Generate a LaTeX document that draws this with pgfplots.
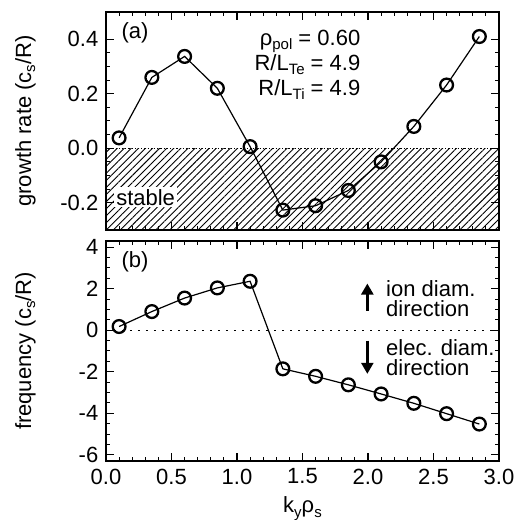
\documentclass[border=0pt]{standalone}
\usepackage{fontspec}
\setmainfont{Liberation Sans}
\usepackage{pgfplots}
\pgfplotsset{compat=1.18}
\usetikzlibrary{arrows.meta,patterns.meta}
\newcommand\sub[1]{\raisebox{-0.35ex}{\fontsize{7.5}{8}\selectfont #1}}
\newcommand\fs{\fontsize{11}{13}\selectfont}
\pgfplotsset{
  common/.style={
    scale only axis,
    width=196.5pt,
    xmin=0, xmax=3,
    xtick={0,0.5,...,3},
    minor x tick num=4,
    tick align=inside,
    major tick length=4pt,
    minor tick length=2pt,
    axis line style={line width=0.75pt},
    every tick/.style={line width=0.6pt, black},
    every minor tick/.style={line width=0.5pt, black},
    /pgf/number format/assume math mode=true,
    tick label style={font=\fs},
    label style={font=\fs},
    ylabel style={at={(axis description cs:-0.205,0.5)}, anchor=center},
  }
}
\begin{document}
\fs
\begin{tikzpicture}
\useasboundingbox (0,0) rectangle (257.5pt,260pt);
% ---------- top panel ----------
\begin{axis}[common,
  at={(53pt,145pt)}, anchor=south west,
  height=109pt,
  ymin=-0.3, ymax=0.5,
  ytick={-0.2,0,0.2,0.4},
  minor y tick num=3,
  xticklabels={},
  yticklabel style={/pgf/number format/.cd, fixed, fixed zerofill, precision=1},
  ylabel={growth rate (c\sub{s}/R)},
]
\addplot[draw=none, pattern={Lines[angle=45,distance=2.5pt,line width=0.45pt]}, forget plot]
  coordinates {(0,-0.3) (3,-0.3) (3,0) (0,0)} -- cycle;
\addplot[black, line width=0.5pt, dash pattern=on 0.6pt off 1pt, forget plot]
  coordinates {(0,0) (3,0)};
\node[fill=white, inner sep=1pt, anchor=west, font=\fs] at (axis cs:0.06,-0.18) {stable};
\addplot[black, line width=0.6pt, mark=o, mark size=3.2pt, mark options={line width=1.15pt}]
  coordinates {
  (0.10,0.038) (0.35,0.260) (0.60,0.337) (0.85,0.220) (1.10,0.006)
  (1.35,-0.227) (1.60,-0.211) (1.85,-0.155) (2.10,-0.050) (2.35,0.080)
  (2.60,0.232) (2.85,0.410)};
\node[anchor=west, font=\fs] at (axis cs:0.06,0.425) {(a)};
\node[anchor=east, align=right, font=\fontsize{11}{12.5}\selectfont] at (axis cs:2.0,0.305)
  {ρ\sub{pol} = 0.60\\R/L\sub{Te} = 4.9\\R/L\sub{Ti} = 4.9};
\end{axis}
% ---------- bottom panel ----------
\begin{axis}[common,
  at={(53pt,29.5pt)}, anchor=south west,
  height=110pt,
  ymin=-6.3, ymax=4.3,
  ytick={-6,-4,...,4},
  minor y tick num=3,
  xticklabel style={/pgf/number format/.cd, fixed, fixed zerofill, precision=1},
  ylabel={frequency (c\sub{s}/R)},
  xlabel={k\sub{y}ρ\sub{s}},
  xlabel style={at={(axis description cs:0.5,0)}, anchor=base, yshift=-26pt},
]
\addplot[black, line width=0.6pt, dash pattern=on 0.8pt off 3.2pt, forget plot]
  coordinates {(0,0) (3,0)};
\addplot[black, line width=0.6pt, mark=o, mark size=3.2pt, mark options={line width=1.15pt}]
  coordinates {
  (0.10,0.18) (0.35,0.90) (0.60,1.55) (0.85,2.04) (1.10,2.36)
  (1.35,-1.86) (1.60,-2.22) (1.85,-2.63) (2.10,-3.07) (2.35,-3.52)
  (2.60,-4.02) (2.85,-4.52)};
\node[anchor=west, font=\fs] at (axis cs:0.06,3.3) {(b)};
\draw[line width=1.2pt, -{Triangle[width=6pt,length=5.5pt]}] (axis cs:1.995,0.95) -- (axis cs:1.995,2.25);
\draw[line width=1.2pt, -{Triangle[width=6pt,length=5.5pt]}] (axis cs:1.995,-0.5) -- (axis cs:1.995,-2.1);
\node[anchor=west, align=left, font=\fontsize{11}{10}\selectfont] at (axis cs:2.08,1.5) {ion diam.\\direction};
\node[anchor=west, align=left, font=\fontsize{11}{10}\selectfont] at (axis cs:2.08,-1.3) {elec. diam.\\direction};
\end{axis}
\end{tikzpicture}
\end{document}
